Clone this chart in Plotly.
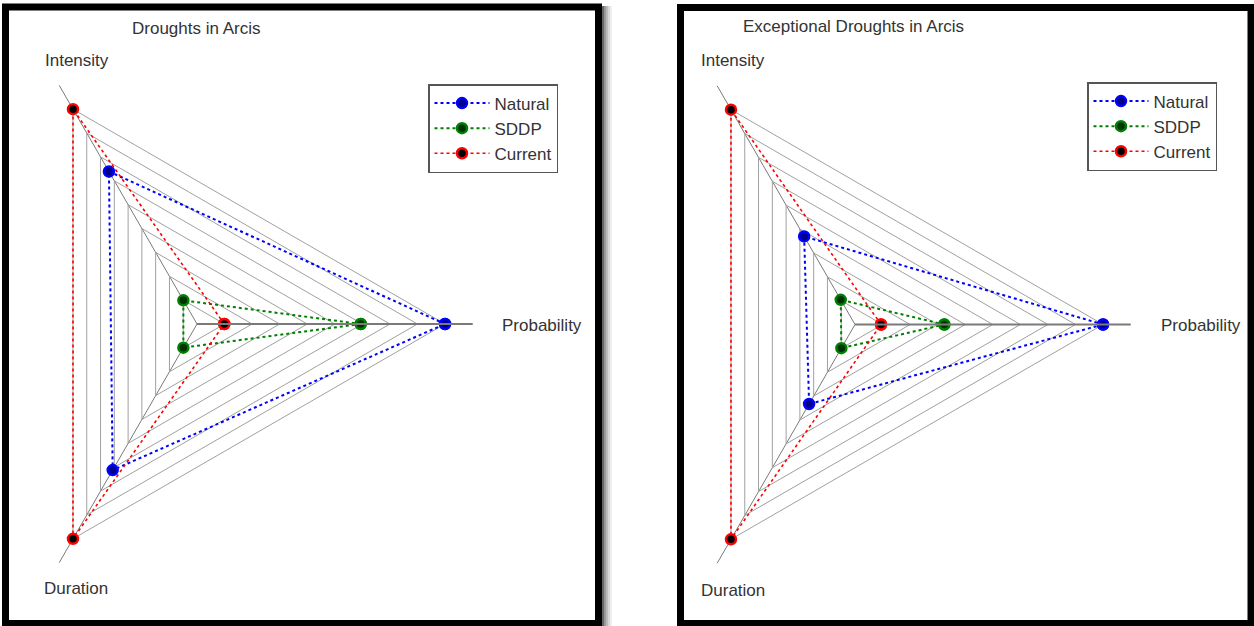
import plotly.graph_objects as go

# ---------------- data ----------------
axis_labels = ["Probability", "Intensity", "Duration"]
series_names = ["Natural", "SDDP", "Current"]
series_colors = ["#0000ff", "#008000", "#ff0000"]
marker_fills = ["#00008b", "#003300", "#000000"]

drought_natural = [1.00, 0.71, 0.68]
drought_sddp = [0.66, 0.11, 0.11]
drought_current = [0.11, 1.00, 1.00]

exceptional_natural = [1.00, 0.41, 0.37]
exceptional_sddp = [0.36, 0.115, 0.11]
exceptional_current = [0.105, 1.00, 1.00]

ring_ticks = [0.1111, 0.2222, 0.3333, 0.4444, 0.5556, 0.6667, 0.7778, 0.8889, 1.0]
radial_max = 1.1111

panel_titles = ["Droughts in Arcis", "Exceptional Droughts in Arcis"]

FONT = "Liberation Sans, Arial, sans-serif"
TXT = "#333333"
RING = "#a0a0a0"
SPOKE = "#7a7a7a"

# page geometry: the figure is wider than the window and shifted left so that
# the left part of each (triangular) polar circle falls outside the view
VIEW_W, H = 1254, 626
SHIFT = 80
W = VIEW_W + SHIFT


def fx(px):
    return (px + SHIFT) / W


def fy(py):
    return 1 - py / H


fig = go.Figure()

panels = [
    ("polar", "legend", [drought_natural, drought_sddp, drought_current]),
    ("polar2", "legend2", [exceptional_natural, exceptional_sddp, exceptional_current]),
]

for subplot, legend_id, series in panels:
    for name, color, fill, vals in zip(series_names, series_colors, marker_fills, series):
        fig.add_trace(go.Scatterpolar(
            r=vals + [vals[0]],
            theta=axis_labels + [axis_labels[0]],
            mode="lines+markers",
            name=name,
            subplot=subplot,
            legend=legend_id,
            legendgroup=name,
            cliponaxis=False,
            line=dict(color=color, dash="dot", width=2 if name != "Current" else 1.6),
            marker=dict(size=10, color=fill, line=dict(color=color, width=2.5)),
        ))


def polar_cfg(cx, cy, R):
    return dict(
        domain=dict(x=[fx(cx - R), fx(cx + R)], y=[fy(cy + R), fy(cy - R)]),
        gridshape="linear",
        bgcolor="white",
        radialaxis=dict(
            range=[0, radial_max], tickvals=ring_ticks, showticklabels=False,
            ticks="", showline=True, linecolor=SPOKE, linewidth=2,
            gridcolor=RING, gridwidth=1, angle=0,
        ),
        angularaxis=dict(
            rotation=0, direction="counterclockwise", showline=False,
            showticklabels=False, ticks="", gridcolor=SPOKE, gridwidth=1.3,
            categoryorder="array", categoryarray=axis_labels,
        ),
    )


def legend_cfg(x, y):
    return dict(
        x=fx(x), y=fy(y), xanchor="left", yanchor="top",
        bgcolor="white", bordercolor="#555555", borderwidth=1.5,
        font=dict(family=FONT, size=17, color=TXT),
        tracegroupgap=0, itemwidth=55,
    )


def label(x, y, text, xanchor="center"):
    return dict(x=fx(x), y=fy(y), text=text, xref="paper", yref="paper",
                xanchor=xanchor, yanchor="middle", showarrow=False,
                font=dict(family=FONT, size=17, color=TXT))


annotations = [
    label(196, 28, panel_titles[0]),
    label(853, 27, panel_titles[1]),
    label(77, 61, axis_labels[1]),
    label(76, 588, axis_labels[2]),
    label(500, 325, axis_labels[0], "left"),
    label(733, 60, axis_labels[1]),
    label(733, 590, axis_labels[2]),
    label(1159, 325, axis_labels[0], "left"),
]


def px_rect(x0, y0, x1, y1, **kw):
    return dict(type="rect", xref="paper", yref="paper",
                x0=fx(x0), x1=fx(x1), y0=fy(y1), y1=fy(y0), **kw)


shapes = []
shadow_cols = ["#666666", "#999999", "#bbbbbb", "#d8d8d8", "#eeeeee"]
for i, c in enumerate(shadow_cols):
    shapes.append(px_rect(602 + 2 * i, 6, 604 + 2 * i, 626, fillcolor=c, line=dict(width=0), layer="below"))
shapes.append(px_rect(5.5, 7, 598.5, 623.5, line=dict(color="black", width=7), layer="below"))
shapes.append(px_rect(680.5, 7.5, 1251, 623.5, line=dict(color="black", width=7), layer="below"))

fig.update_layout(
    width=W, height=H,
    margin=dict(l=0, r=0, t=0, b=0),
    paper_bgcolor="white", plot_bgcolor="white",
    polar=polar_cfg(197, 324, 275.6),
    polar2=polar_cfg(855, 324.5, 275.6),
    legend=legend_cfg(428, 84),
    legend2=legend_cfg(1087, 82),
    showlegend=True,
    annotations=annotations,
    shapes=shapes,
)

fig.write_html(
    "out.html",
    config={"displayModeBar": False},
    post_script=(
        "document.body.style.margin='0px';"
        "document.body.style.overflow='hidden';"
        "var gd=document.getElementsByClassName('plotly-graph-div')[0];"
        "gd.style.marginLeft='-" + str(SHIFT) + "px';"
    ),
)
